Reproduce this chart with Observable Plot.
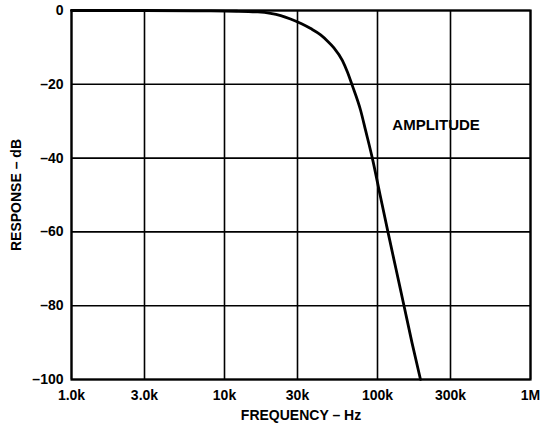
<!DOCTYPE html>
<html>
<head>
<meta charset="utf-8">
<script src="https://cdn.jsdelivr.net/npm/d3@7"></script>
<script src="https://cdn.jsdelivr.net/npm/@observablehq/plot@0.6"></script>
<style>
  html, body { margin: 0; padding: 0; background: #fff; }
  svg { display: block; }
</style>
</head>
<body>
<div id="chart"></div>
<script>
// Frequency (Hz) and response (dB)
const freqHz = [1000, 3000, 7000, 12000, 16500, 20000, 23300, 27000, 31900, 36600, 42500, 47200, 51900, 58900, 63500, 68400, 77600, 83600, 92500, 104000, 117000, 132000, 149000, 168000, 191000];
const responseDb = [0, 0, -0.1, -0.2, -0.4, -0.8, -1.4, -2.3, -3.6, -4.9, -6.6, -8.3, -10.1, -13.5, -16.6, -20.3, -27.1, -32.5, -40, -50, -60, -70, -80, -90, -100];

const xTicks = [1000, 3000, 10000, 30000, 100000, 300000, 1000000];
const xTickLabels = ["1.0k", "3.0k", "10k", "30k", "100k", "300k", "1M"];
const yTicks = [0, -20, -40, -60, -80, -100];
const yTickLabels = ["0", "–20", "–40", "–60", "–80", "–100"];

const annotation = [{f: 125000, db: -31.2, label: "AMPLITUDE"}];

const curve = freqHz.map((f, i) => ({f, db: responseDb[i]}));
const xLabelOf = new Map(xTicks.map((t, i) => [t, xTickLabels[i]]));
const yLabelOf = new Map(yTicks.map((t, i) => [t, yTickLabels[i]]));

const chart = Plot.plot({
  width: 541,
  height: 429,
  marginLeft: 71,
  marginRight: 11,
  marginTop: 10,
  marginBottom: 50,
  style: {fontFamily: "'Liberation Sans', Arial, sans-serif", fontWeight: "bold", fontSize: "14px", color: "#000", background: "#fff"},
  x: {type: "log", domain: [1000, 1000000]},
  y: {domain: [-100, 0]},
  marks: [
    Plot.ruleX(xTicks, {stroke: "#000", strokeWidth: 1.6}),
    Plot.ruleY(yTicks, {stroke: "#000", strokeWidth: 1.6}),
    Plot.frame({stroke: "#000", strokeWidth: 2.2}),
    Plot.line(curve, {x: "f", y: "db", stroke: "#000", strokeWidth: 2.8, curve: "monotone-x"}),
    Plot.text(annotation, {x: "f", y: "db", text: "label", textAnchor: "start", fontSize: 15, fontWeight: "bold", fill: "#000"}),
    Plot.axisX({
      ticks: xTicks, tickFormat: d => xLabelOf.get(d), tickSize: 0, tickPadding: 11,
      fontSize: 14, fontWeight: "bold",
      label: "FREQUENCY – Hz", labelAnchor: "center", labelArrow: "none", labelOffset: 40
    }),
    Plot.axisY({
      ticks: yTicks, tickFormat: d => yLabelOf.get(d), tickSize: 0, tickPadding: 8,
      fontSize: 14, fontWeight: "bold",
      label: "RESPONSE – dB", labelAnchor: "center", labelArrow: "none", labelOffset: 60
    })
  ]
});
document.getElementById("chart").appendChild(chart);
</script>
</body>
</html>
